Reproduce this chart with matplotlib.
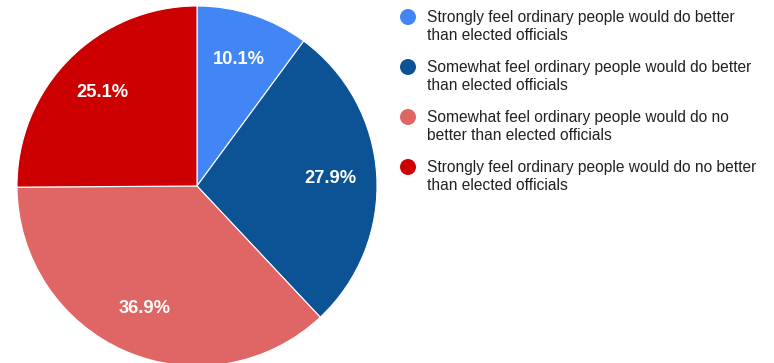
import matplotlib
matplotlib.use("Agg")
import matplotlib.pyplot as plt

plt.rcParams['font.family'] = ['Liberation Sans', 'DejaVu Sans']

categories = [
    "Strongly feel ordinary people would do better\nthan elected officials",
    "Somewhat feel ordinary people would do better\nthan elected officials",
    "Somewhat feel ordinary people would do no\nbetter than elected officials",
    "Strongly feel ordinary people would do no better\nthan elected officials",
]
values = [10.1, 27.9, 36.9, 25.1]
colors = ["#4285F4", "#0B5394", "#E06666", "#CC0000"]

W, H = 774, 363
fig = plt.figure(figsize=(W / 100, H / 100), dpi=100)

# pie area: centre (197, 186) px, radius 180 px
cx, cy, r = 197, 186, 180
ax = fig.add_axes([(cx - r) / W, (H - cy - r) / H, 2 * r / W, 2 * r / H])
ax.pie(values, colors=colors, startangle=90, counterclock=False,
       autopct=lambda p: f"{p:.1f}%", pctdistance=0.74, radius=1.0,
       wedgeprops=dict(linewidth=0.8, edgecolor="white"),
       textprops=dict(color="white", fontsize=13.2, fontweight="bold"))
ax.set_xlim(-1, 1)
ax.set_ylim(-1, 1)
ax.set_aspect("equal")

# legend drawn in pixel coordinates on an overlay axes
lax = fig.add_axes([0, 0, 1, 1])
lax.set_xlim(0, W)
lax.set_ylim(H, 0)
lax.axis("off")
lax.scatter([408] * len(colors), [17 + 50 * i for i in range(len(colors))],
            s=11.5 ** 2, c=colors, linewidths=0)
for i, label in enumerate(categories):
    for j, line in enumerate(label.split("\n")):
        lax.text(427, 22 + 50 * i + 18 * j, line, fontsize=11.2,
                 color="#222222", ha="left", va="baseline")

fig.savefig("out.png", dpi=100)
